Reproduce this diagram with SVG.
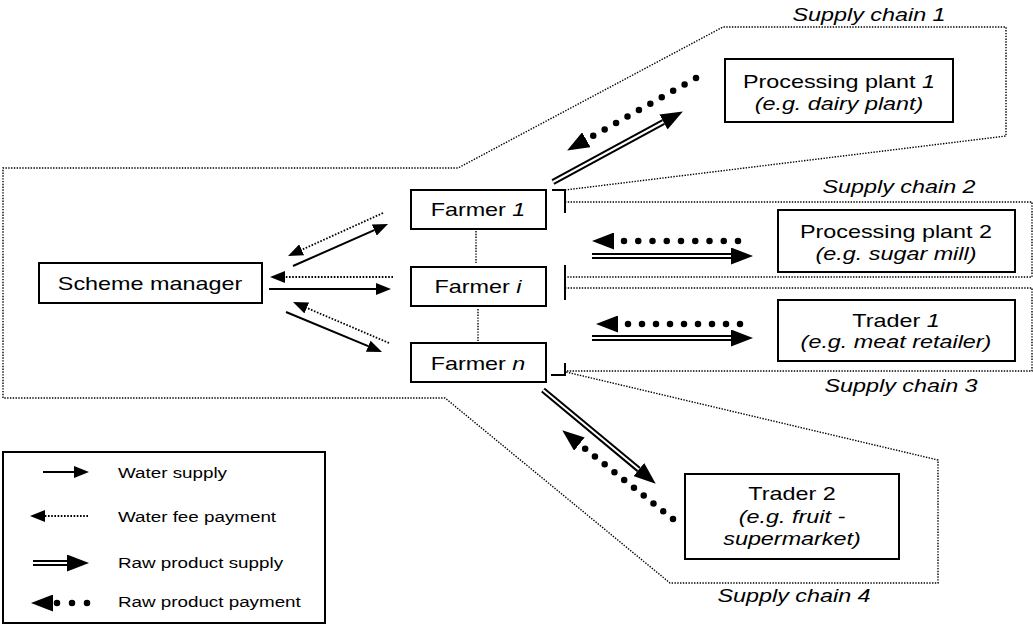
<svg xmlns="http://www.w3.org/2000/svg" width="1033" height="627" viewBox="0 0 1033 627">
<style>
  .box { fill: #fff; stroke: #000; stroke-width: 2; }
  .t { font-family: "Liberation Sans", Arial, sans-serif; font-size: 19px; text-anchor: middle; fill: #000; }
  .lg { font-family: "Liberation Sans", Arial, sans-serif; font-size: 15.3px; text-anchor: start; fill: #000; }
  .it { font-style: italic; }
  .zone { fill: none; stroke: #000; stroke-width: 1.4; stroke-dasharray: 1.4 1.4; }
  .brk { fill: none; stroke: #000; stroke-width: 2; }
  .ws { fill: none; stroke: #000; stroke-width: 2; }
  .fee { fill: none; stroke: #000; stroke-width: 1.8; stroke-dasharray: 1.6 1.6; }
  .dbl { fill: none; stroke: #000; stroke-width: 6; }
  .dblw { fill: none; stroke: #fff; stroke-width: 2; }
  .pay { fill: none; stroke: #000; stroke-width: 6.5; stroke-linecap: round; }
</style>
<defs>
  <marker id="hs" markerUnits="userSpaceOnUse" markerWidth="15" markerHeight="12" refX="0" refY="6" orient="auto">
    <path d="M0,0 L15,6 L0,12 z" fill="#000" stroke="none"/>
  </marker>
  <marker id="hb" markerUnits="userSpaceOnUse" markerWidth="22" markerHeight="17" refX="0" refY="8.5" orient="auto">
    <path d="M0,0 L22,8.5 L0,17 z" fill="#000" stroke="none"/>
  </marker>
</defs>
<rect width="1033" height="627" fill="#fff"/>

<g id="zones">
  <path class="zone" d="M565,190 L1006,136 L1006,27 L723,27 L458,168 L3,168 L3,398 L445,398 L670,583 L938,583 L938,460 L566,372"/>
  <path class="zone" d="M565,202 H1032 V277 H565"/>
  <path class="zone" d="M565,288 H1032 V371 H565"/>
  <path class="brk" d="M552,190 H565 V213"/>
  <path class="brk" d="M565,265 V300"/>
  <path class="brk" d="M565,363 V375 H551"/>
  <path class="zone" d="M476,231 V263"/>
  <path class="zone" d="M478,309 V341"/>
  <text class="t it" transform="translate(869,21) scale(1.23,1)">Supply chain 1</text>
  <text class="t it" transform="translate(899,193) scale(1.23,1)">Supply chain 2</text>
  <text class="t it" transform="translate(901,392) scale(1.23,1)">Supply chain 3</text>
  <text class="t it" transform="translate(794,602) scale(1.23,1)">Supply chain 4</text>
</g>

<g id="connectors">
  <!-- scheme manager <-> farmers -->
  <path class="ws" d="M293,266 L374.3,230.1" marker-end="url(#hs)"/>
  <path class="fee" d="M383,213 L301.7,249.8" marker-end="url(#hs)"/>
  <path class="fee" d="M393,277 L285,277" marker-end="url(#hs)"/>
  <path class="ws" d="M269,289 L376,289" marker-end="url(#hs)"/>
  <path class="fee" d="M389,343 L306.8,307.9" marker-end="url(#hs)"/>
  <path class="ws" d="M286,312 L368.2,346.2" marker-end="url(#hs)"/>
  <!-- supply chain 1 -->
  <path class="dbl" d="M553,182 L663.5,122"/>
  <path class="dblw" d="M553,182 L663.5,122" marker-end="url(#hb)"/>
  <path class="pay" d="M696,78 L586.3,139.7" stroke-dasharray="0 13.1" marker-end="url(#hb)"/>
  <!-- supply chain 2 -->
  <path class="pay" d="M738,241 L614,241" stroke-dasharray="0 14.25" marker-end="url(#hb)"/>
  <path class="dbl" d="M592,256 L731,256"/>
  <path class="dblw" d="M592,256 L731,256" marker-end="url(#hb)"/>
  <!-- supply chain 3 -->
  <path class="pay" d="M740,324 L618,324" stroke-dasharray="0 14" marker-end="url(#hb)"/>
  <path class="dbl" d="M592,338 L731,338"/>
  <path class="dblw" d="M592,338 L731,338" marker-end="url(#hb)"/>
  <!-- supply chain 4 -->
  <path class="dbl" d="M543,390 L638.8,469.6"/>
  <path class="dblw" d="M543,390 L638.8,469.6" marker-end="url(#hb)"/>
  <path class="pay" d="M673,519 L579.4,444.1" stroke-dasharray="0 12.5" marker-end="url(#hb)"/>
</g>

<g id="scheme-manager">
  <rect class="box" x="39" y="263" width="223" height="40"/>
  <text class="t" transform="translate(150,290) scale(1.23,1)">Scheme manager</text>
</g>
<g id="farmer-1">
  <rect class="box" x="411" y="190" width="135" height="39"/>
  <text class="t" transform="translate(478,216) scale(1.23,1)">Farmer <tspan class="it">1</tspan></text>
</g>
<g id="farmer-i">
  <rect class="box" x="411" y="267" width="135" height="39"/>
  <text class="t" transform="translate(478,293) scale(1.23,1)">Farmer <tspan class="it">i</tspan></text>
</g>
<g id="farmer-n">
  <rect class="box" x="411" y="343" width="135" height="39"/>
  <text class="t" transform="translate(478,370) scale(1.23,1)">Farmer <tspan class="it">n</tspan></text>
</g>
<g id="processing-plant-1">
  <rect class="box" x="725" y="59" width="228" height="63"/>
  <text class="t" transform="translate(839,88) scale(1.23,1)">Processing plant <tspan class="it">1</tspan></text>
  <text class="t it" transform="translate(839,110) scale(1.23,1)">(e.g. dairy plant)</text>
</g>
<g id="processing-plant-2">
  <rect class="box" x="778" y="210" width="237" height="62"/>
  <text class="t" transform="translate(896,238) scale(1.23,1)">Processing plant 2</text>
  <text class="t it" transform="translate(896,260) scale(1.23,1)">(e.g. sugar mill)</text>
</g>
<g id="trader-1">
  <rect class="box" x="778" y="300" width="237" height="61"/>
  <text class="t" transform="translate(896,327) scale(1.23,1)">Trader <tspan class="it">1</tspan></text>
  <text class="t it" transform="translate(896,348) scale(1.23,1)">(e.g. meat retailer)</text>
</g>
<g id="trader-2">
  <rect class="box" x="685" y="474" width="214" height="85"/>
  <text class="t" transform="translate(792,500) scale(1.23,1)">Trader 2</text>
  <text class="t it" transform="translate(792,523) scale(1.23,1)">(e.g. fruit -</text>
  <text class="t it" transform="translate(792,545) scale(1.23,1)">supermarket)</text>
</g>

<g id="legend">
  <rect class="box" x="3" y="452" width="322" height="171"/>
  <path class="ws" d="M43,472 L74,472" marker-end="url(#hs)"/>
  <text class="lg" transform="translate(118,478) scale(1.23,1)">Water supply</text>
  <path class="fee" d="M88,516 L45,516" marker-end="url(#hs)"/>
  <text class="lg" transform="translate(118,522) scale(1.23,1)">Water fee payment</text>
  <path class="dbl" d="M33,563 L67,563"/>
  <path class="dblw" d="M33,563 L67,563" marker-end="url(#hb)"/>
  <text class="lg" transform="translate(118,568) scale(1.23,1)">Raw product supply</text>
  <path class="pay" d="M87,603 L53,603" stroke-dasharray="0 15" marker-end="url(#hb)"/>
  <text class="lg" transform="translate(118,607) scale(1.23,1)">Raw product payment</text>
</g>
</svg>
